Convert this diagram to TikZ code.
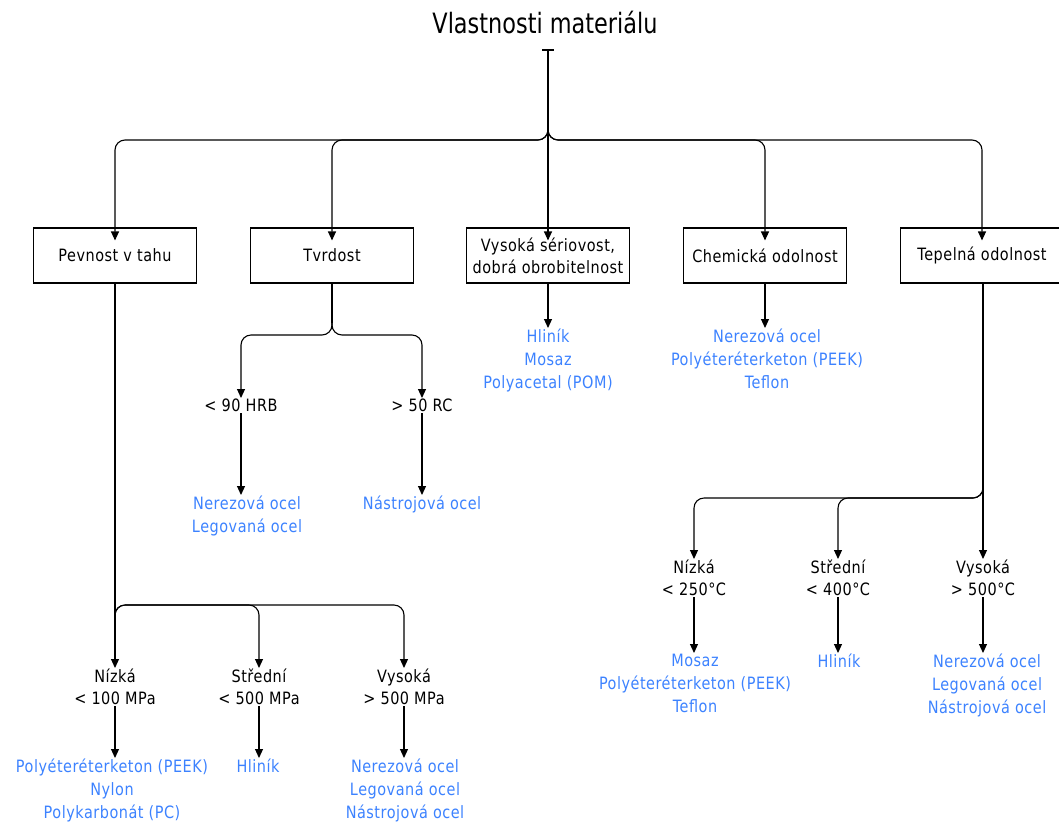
\documentclass[tikz,border=0pt]{standalone}
\usepackage{fontspec}
\setmainfont[FakeStretch=0.85,LetterSpace=3]{DejaVu Sans}
\newfontfamily\titlefont[FakeStretch=0.8]{DejaVu Sans}
\usetikzlibrary{arrows.meta}
\definecolor{matblue}{RGB}{60,130,255}
\tikzset{
  ln/.style={line width=1.1pt, black},
  arr/.style={ln, -{Triangle[length=9pt,width=8pt]}},
  rc/.style={rounded corners=10pt},
  catbox/.style={draw, line width=1.1pt, minimum width=163pt, minimum height=55pt, align=center, font=\fontsize{17}{22}\selectfont, inner sep=2pt},
  lvl/.style={anchor=north, align=center, inner sep=1pt, font=\fontsize{17}{22}\selectfont},
  mat/.style={anchor=north, align=center, inner sep=1pt, text=matblue, font=\fontsize{17}{23}\selectfont},
}
\begin{document}
\begin{tikzpicture}[x=1pt,y=-1pt]
\useasboundingbox (0,0) rectangle (1059,825);
% title
\node[font=\titlefont\fontsize{28}{30}\selectfont] (title) at (545,22) {Vlastnosti materiálu};
\coordinate (t) at (548,50);
\draw[ln] ([xshift=-6pt]t) -- ([xshift=6pt]t);
% boxes
\node[catbox] (b1) at (115,255.5) {Pevnost v tahu};
\node[catbox] (b2) at (332,255.5) {Tvrdost};
\node[catbox] (b3) at (548,255.5) {Vysoká sériovost,\\dobrá obrobitelnost};
\node[catbox] (b4) at (765,255.5) {Chemická odolnost};
\node[catbox] (b5) at (982,255.5) {Tepelná odolnost};
% top bus
\coordinate (j0) at (548,140);
\coordinate (j0t) at (548,128);
\draw[arr] (t) -- ([yshift=-13pt]b3.north);
\draw[arr,rc] (j0t) |- (b1.north |- j0) -- ([yshift=-13pt]b1.north);
\draw[arr,rc] (j0t) |- (b2.north |- j0) -- ([yshift=-13pt]b2.north);
\draw[arr,rc] (j0t) |- (b4.north |- j0) -- ([yshift=-13pt]b4.north);
\draw[arr,rc] (j0t) |- (b5.north |- j0) -- ([yshift=-13pt]b5.north);
% Pevnost v tahu
\node[lvl] (p1) at (115,668) {Nízká\\< 100 MPa};
\node[lvl] (p2) at (259,668) {Střední\\< 500 MPa};
\node[lvl] (p3) at (404,668) {Vysoká\\> 500 MPa};
\coordinate (jp) at (115,605);
\draw[arr] (b1.south) -- (p1.north);
\draw[arr,rc] ([yshift=-12pt]jp) |- (p2.north |- jp) -- (p2.north);
\draw[arr,rc] ([yshift=-12pt]jp) |- (p3.north |- jp) -- (p3.north);
\node[mat] (m1) at (112,758) {Polyéteréterketon (PEEK)\\Nylon\\Polykarbonát (PC)};
\node[mat] (m2) at (258,758) {Hliník};
\node[mat] (m3) at (405,758) {Nerezová ocel\\Legovaná ocel\\Nástrojová ocel};
\draw[arr] (p1.south) -- (m1.north -| p1.south);
\draw[arr] (p2.south) -- (m2.north -| p2.south);
\draw[arr] (p3.south) -- (m3.north -| p3.south);
% Tvrdost
\coordinate (jt) at (332,335);
\coordinate (jtt) at (332,323);
\node[lvl] (t1) at (241,398) {< 90 HRB};
\node[lvl] (t2) at (422,398) {> 50 RC};
\draw[ln] (b2.south) -- (jtt);
\draw[arr,rc] (jtt) |- (t1.north |- jt) -- (t1.north);
\draw[arr,rc] (jtt) |- (t2.north |- jt) -- (t2.north);
\node[mat] (tm1) at (247,495) {Nerezová ocel\\Legovaná ocel};
\node[mat] (tm2) at (422,495) {Nástrojová ocel};
\draw[arr] (t1.south) -- (tm1.north -| t1.south);
\draw[arr] (t2.south) -- (tm2.north -| t2.south);
% Vysoka seriovost
\node[mat] (s1) at (548,328) {Hliník\\Mosaz\\Polyacetal (POM)};
\draw[arr] (b3.south) -- (s1.north);
% Chemicka
\node[mat] (c1) at (767,328) {Nerezová ocel\\Polyéteréterketon (PEEK)\\Teflon};
\draw[arr] (b4.south) -- (c1.north -| b4.south);
% Tepelna
\coordinate (je) at (983,498);
\coordinate (jet) at (983,486);
\node[lvl] (e1) at (694,559) {Nízká\\< 250°C};
\node[lvl] (e2) at (838,559) {Střední\\< 400°C};
\node[lvl] (e3) at (983,559) {Vysoká\\> 500°C};
\draw[arr] (b5.south -| e3) -- (e3.north);
\draw[arr,rc] (jet) |- (e1.north |- je) -- (e1.north);
\draw[arr,rc] (jet) |- (e2.north |- je) -- (e2.north);
\node[mat] (em1) at (695,653) {Mosaz\\Polyéteréterketon (PEEK)\\Teflon};
\node[mat] (em2) at (839,653) {Hliník};
\node[mat] (em3) at (987,653) {Nerezová ocel\\Legovaná ocel\\Nástrojová ocel};
\draw[arr] (e1.south) -- (em1.north -| e1.south);
\draw[arr] (e2.south) -- (em2.north -| e2.south);
\draw[arr] (e3.south) -- (em3.north -| e3.south);
\end{tikzpicture}
\end{document}
